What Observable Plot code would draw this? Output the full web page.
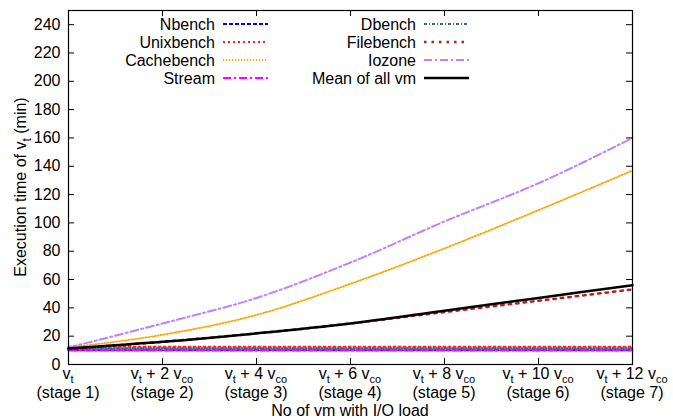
<!DOCTYPE html>
<html>
<head>
<meta charset="utf-8">
<script src="https://cdn.jsdelivr.net/npm/d3@7"></script>
<script src="https://cdn.jsdelivr.net/npm/@observablehq/plot@0.6"></script>
<style>
  html, body { margin: 0; padding: 0; background: #fff; }
  #chart { width: 673px; height: 419px; }
</style>
</head>
<body>
<div id="chart"></div>
<script>
// ---- data ----
const stages = [0, 1, 2, 3, 4, 5, 6];
const xTickMultipliers = [null, 2, 4, 6, 8, 10, 12];
const xTickStageLabels = ["(stage 1)", "(stage 2)", "(stage 3)", "(stage 4)", "(stage 5)", "(stage 6)", "(stage 7)"];
const yTicks = [0, 20, 40, 60, 80, 100, 120, 140, 160, 180, 200, 220, 240];

const seriesNames = ["Nbench", "Unixbench", "Cachebench", "Stream", "Dbench", "Filebench", "Iozone", "Mean of all vm"];
const nbench     = [10, 10, 10, 10, 10, 10, 10];
const unixbench  = [12.5, 12.5, 12.5, 12.5, 12.5, 12.5, 12.5];
const cachebench = [12, 21, 35, 57, 82, 109, 137];
const stream     = [10, 10, 10, 10, 10, 10, 10];
const dbench     = [11.5, 11.5, 11.5, 11.5, 11.5, 11.5, 11.5];
const filebench  = [11, 16, 22, 29, 37, 45, 53];
const iozone     = [12, 29, 47, 72, 101, 128, 160];
const meanAll    = [11.3, 16, 22, 29, 38, 47, 56];

// ---- styles ----
const seriesValues = [nbench, unixbench, cachebench, stream, dbench, filebench, iozone, meanAll];
const seriesColors = ["#0000ff", "#ff2020", "#ffa500", "#ff00ff", "#2f6a96", "#b22222", "#c080ff", "#000000"];
const seriesDash   = ["4,2", "2,3", "1.2,1.8", "8,3,2,3", "3,2,1,2", "2.5,5", "8,3,2,3", null];
const seriesWidth  = [2, 2, 1.8, 2, 2, 2.5, 2, 2.5];

const W = 673, H = 419;
const mL = 68, mR = 41, mT = 10, mB = 55;
const plotW = W - mL - mR, plotH = H - mT - mB;
const tickLen = 6;

const table = [];
seriesNames.forEach((name, s) => stages.forEach((st, i) => table.push({series: name, s, stage: st, value: seriesValues[s][i]})));

const lineMarks = seriesNames.map((name, s) =>
  Plot.line(table.filter(d => d.s === s), {
    x: "stage", y: "value",
    stroke: seriesColors[s],
    strokeWidth: seriesWidth[s],
    strokeDasharray: seriesDash[s],
    curve: "monotone-x"
  })
);

const plot = Plot.plot({
  width: W, height: H,
  marginLeft: mL, marginRight: mR, marginTop: mT, marginBottom: mB,
  style: {fontFamily: "'Liberation Sans', Arial, sans-serif", fontSize: "16px", background: "#fff", color: "#000"},
  x: {domain: [0, 6], axis: null},
  y: {domain: [0, 250]},
  marks: [
    Plot.axisY({ticks: yTicks, tickSize: 0, tickPadding: 8, label: null, fontSize: 16}),
    ...lineMarks,
    Plot.tickY(yTicks, {y: d => d, insetRight: plotW - tickLen, stroke: "#000"}),
    Plot.tickY(yTicks, {y: d => d, insetLeft: plotW - tickLen, stroke: "#000"}),
    Plot.tickX(stages, {x: d => d, insetTop: plotH - tickLen, stroke: "#000"}),
    Plot.tickX(stages, {x: d => d, insetBottom: plotH - tickLen, stroke: "#000"}),
    Plot.frame({stroke: "#000", strokeWidth: 1.2})
  ]
});

document.getElementById("chart").appendChild(plot);

const svg = d3.select(plot);
const xs = plot.scale("x");
const font = "'Liberation Sans', Arial, sans-serif";

// x tick labels (two lines, with subscripts) as one text element each
const xl = svg.append("g").attr("font-family", font).attr("font-size", 16).attr("text-anchor", "middle").attr("fill", "#000");
stages.forEach((st, i) => {
  const cx = xs.apply(st);
  const t = xl.append("text").attr("x", cx).attr("y", mT + plotH + 15);
  const line1 = t.append("tspan").attr("x", cx);
  line1.append("tspan").text("v");
  line1.append("tspan").attr("font-size", 11).attr("dy", 4).text("t");
  if (xTickMultipliers[i] != null) {
    line1.append("tspan").attr("dy", -4).text(" + " + xTickMultipliers[i] + " v");
    line1.append("tspan").attr("font-size", 11).attr("dy", 4).text("co");
  }
  t.append("tspan").attr("x", cx).attr("dy", 15).text(xTickStageLabels[i]);
});

// x axis title
svg.append("text").attr("font-family", font).attr("font-size", 16).attr("text-anchor", "middle")
  .attr("x", mL + plotW / 2).attr("y", H - 3).text("No of vm with I/O load");

// y axis title
const yt = svg.append("text").attr("font-family", font).attr("font-size", 16).attr("text-anchor", "middle")
  .attr("transform", `translate(${26},${mT + plotH / 2}) rotate(-90)`);
yt.append("tspan").text("Execution time of v");
yt.append("tspan").attr("font-size", 12).attr("dy", 5).text("t");
yt.append("tspan").attr("dy", -5).text(" (min)");

// legend
const legend = svg.append("g").attr("font-family", font).attr("font-size", 16).attr("fill", "#000");
const legendCols = [{textEnd: 215, x1: 223, x2: 268}, {textEnd: 416, x1: 424, x2: 469}];
const legendRowY = [24, 42, 60, 78];
seriesNames.forEach((name, s) => {
  const col = legendCols[Math.floor(s / 4)];
  const y = legendRowY[s % 4];
  legend.append("text").attr("x", col.textEnd).attr("y", y).attr("dy", "0.35em")
    .attr("text-anchor", "end").text(name);
  legend.append("line").attr("x1", col.x1).attr("x2", col.x2).attr("y1", y).attr("y2", y)
    .attr("stroke", seriesColors[s]).attr("stroke-width", seriesWidth[s])
    .attr("stroke-dasharray", seriesDash[s]);
});
</script>
</body>
</html>
